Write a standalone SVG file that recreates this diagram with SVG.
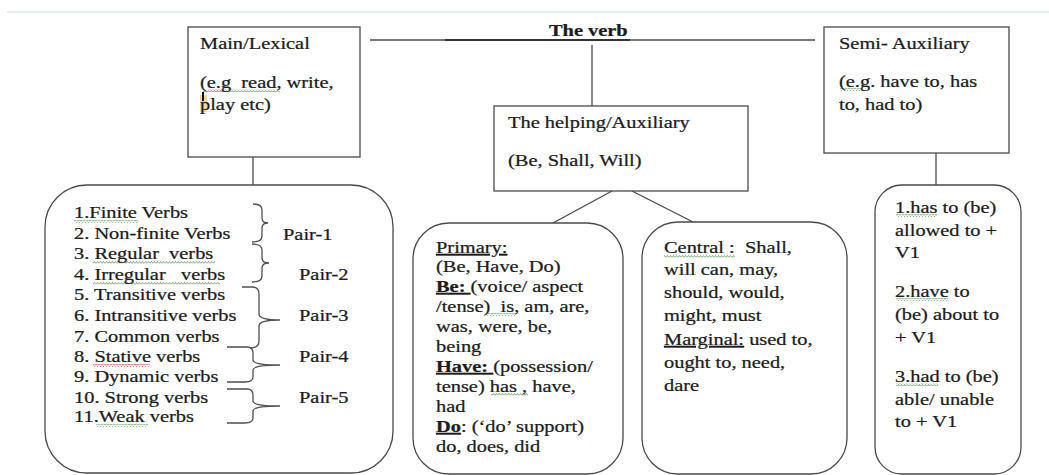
<svg xmlns="http://www.w3.org/2000/svg" width="1049" height="475" viewBox="0 0 1049 475">
<style>
.t{font-family:"Liberation Serif","Times New Roman",serif;font-size:17px;fill:#1c1c1c;stroke:#1c1c1c;stroke-width:0.25;white-space:pre}
.b{font-weight:bold}
.u{text-decoration:underline}
.box{fill:#fff;stroke:#4a4a4a;stroke-width:1.3}
.ln{stroke:#4a4a4a;stroke-width:1.3;fill:none}
.br{stroke:#4f4f4f;stroke-width:1.3;fill:none}
</style>
<defs>
<pattern id="wg" width="3" height="3" patternUnits="userSpaceOnUse"><path d="M0 2.5 L1.5 0.5 L3 2.5" fill="none" stroke="#5aa05a" stroke-width="0.8"/></pattern>
<pattern id="wr" width="3" height="3" patternUnits="userSpaceOnUse"><path d="M0 2.5 L1.5 0.5 L3 2.5" fill="none" stroke="#d04040" stroke-width="0.8"/></pattern>
</defs>
<rect width="1049" height="475" fill="#fff"/>
<line x1="7" y1="12" x2="1049" y2="12" stroke="#dfe4ee" stroke-width="1.5"/>

<g id="connectors">
<line class="ln" x1="370" y1="40" x2="815" y2="40"/>
<line x1="445" y1="40" x2="630" y2="40" stroke="#333" stroke-width="2.2"/>
<line class="ln" x1="592" y1="45" x2="592" y2="106"/>
<line class="ln" x1="253" y1="149" x2="253" y2="185"/>
<line class="ln" x1="936" y1="153" x2="936" y2="185"/>
<line class="ln" x1="612" y1="191" x2="553" y2="223"/>
<line class="ln" x1="632" y1="191" x2="693" y2="222"/>
</g>

<g id="title">
<text class="t b" transform="matrix(1.2 0 0 1 549 36)">The verb</text>
</g>

<g id="main-lexical">
<rect class="box" x="188" y="27" width="172" height="130"/>
<rect x="200" y="95" width="7" height="17" fill="#e8cf7a" opacity="0.8"/>
<rect x="202" y="92" width="2" height="9" fill="#111"/>
<rect x="203" y="89" width="22" height="3" fill="url(#wr)"/>
<rect x="225" y="89" width="55" height="3" fill="url(#wg)"/>
<text class="t" transform="matrix(1.2 0 0 1 200 0)"><tspan x="0" y="49">Main/Lexical</tspan><tspan x="0" y="88">(e.g  read, write,</tspan><tspan x="0" y="110">play etc)</tspan></text>
</g>

<g id="helping">
<rect class="box" x="494" y="106" width="254" height="85"/>
<text class="t" transform="matrix(1.2 0 0 1 508 0)"><tspan x="0" y="128">The helping/Auxiliary</tspan><tspan x="0" y="166">(Be, Shall, Will)</tspan></text>
</g>

<g id="semi-auxiliary">
<rect class="box" x="824" y="27" width="185" height="126"/>
<rect x="840" y="88" width="22" height="3" fill="url(#wg)"/>
<text class="t" transform="matrix(1.2 0 0 1 839 0)"><tspan x="0" y="49">Semi- Auxiliary</tspan><tspan x="0" y="87">(e.g. have to, has</tspan><tspan x="0" y="110">to, had to)</tspan></text>
</g>

<g id="verb-types">
<rect class="box" x="45" y="185" width="348" height="288" rx="42" ry="42"/>
<rect x="74" y="220" width="64" height="3" fill="url(#wg)"/>
<rect x="93" y="261" width="122" height="3" fill="url(#wg)"/>
<rect x="93" y="282" width="127" height="3" fill="url(#wg)"/>
<rect x="93" y="364" width="57" height="3" fill="url(#wr)"/>
<rect x="96" y="424" width="52" height="3" fill="url(#wg)"/>
<text class="t" transform="matrix(1.2 0 0 1 74 0)"><tspan x="0" y="218">1.Finite Verbs</tspan><tspan x="0" y="239">2. Non-finite Verbs</tspan><tspan x="0" y="259">3. Regular  verbs</tspan><tspan x="0" y="280">4. Irregular   verbs</tspan><tspan x="0" y="300">5. Transitive verbs</tspan><tspan x="0" y="321">6. Intransitive verbs</tspan><tspan x="0" y="342">7. Common verbs</tspan><tspan x="0" y="362">8. Stative verbs</tspan><tspan x="0" y="382">9. Dynamic verbs</tspan><tspan x="0" y="403">10. Strong verbs</tspan><tspan x="0" y="422">11.Weak verbs</tspan></text>
<path class="br" d="M253 204 Q262 204 262 210 L262 218 Q262 223 268 223 Q262 223 262 228 L262 236 Q262 242 252 242"/>
<path class="br" d="M252 244 Q262 244 262 250 L262 258 Q262 263 269 263 Q262 263 262 268 L262 276 Q262 282 252 282"/>
<path class="br" d="M242 287 L252 287 Q259 287 259 294 L259 314 Q259 320 280 320 Q259 320 259 326 L259 341 Q259 348 250 348"/>
<path class="br" d="M227 347 L247 347 Q253 347 253 353 L253 360 Q253 365 280 365 Q253 365 253 370 L253 377 Q253 382 245 382 L227 382"/>
<path class="br" d="M227 389 L247 389 Q253 389 253 395 L253 401 Q253 406 280 406 Q253 406 253 411 L253 418 Q253 423 245 423 L227 423"/>
<text class="t" transform="matrix(1.2 0 0 1 283 240)">Pair-1</text>
<text class="t" transform="matrix(1.2 0 0 1 299 280)">Pair-2</text>
<text class="t" transform="matrix(1.2 0 0 1 299 321)">Pair-3</text>
<text class="t" transform="matrix(1.2 0 0 1 299 362)">Pair-4</text>
<text class="t" transform="matrix(1.2 0 0 1 299 403)">Pair-5</text>
</g>

<g id="primary">
<rect class="box" x="413" y="223" width="210" height="251" rx="36" ry="36"/>
<rect x="486" y="313" width="29" height="3" fill="url(#wg)"/>
<rect x="491" y="393" width="37" height="3" fill="url(#wg)"/>
<text class="t" transform="matrix(1.2 0 0 1 436 0)"><tspan x="0" y="253" class="u">Primary:</tspan><tspan x="0" y="272">(Be, Have, Do)</tspan><tspan x="0" y="292" class="b u">Be: </tspan><tspan>(voice/ aspect</tspan><tspan x="0" y="312">/tense)  is, am, are,</tspan><tspan x="0" y="332">was, were, be,</tspan><tspan x="0" y="352">being</tspan><tspan x="0" y="372" class="b u">Have: </tspan><tspan>(possession/</tspan><tspan x="0" y="392">tense) has , have,</tspan><tspan x="0" y="412">had</tspan><tspan x="0" y="432" class="b u">Do</tspan><tspan>: (‘do’ support)</tspan><tspan x="0" y="452">do, does, did</tspan></text>
</g>

<g id="central">
<rect class="box" x="642" y="222" width="205" height="252" rx="36" ry="36"/>
<rect x="664" y="255" width="71" height="3" fill="url(#wg)"/>
<text class="t" transform="matrix(1.2 0 0 1 664 0)"><tspan x="0" y="253">Central :  Shall,</tspan><tspan x="0" y="275">will can, may,</tspan><tspan x="0" y="298">should, would,</tspan><tspan x="0" y="321">might, must</tspan><tspan x="0" y="345" class="u">Marginal:</tspan><tspan> used to,</tspan><tspan x="0" y="368">ought to, need,</tspan><tspan x="0" y="391">dare</tspan></text>
</g>

<g id="semi-examples">
<rect class="box" x="875" y="185" width="146" height="289" rx="27" ry="27"/>
<rect x="896" y="214" width="41" height="3" fill="url(#wg)"/>
<rect x="896" y="298" width="52" height="3" fill="url(#wg)"/>
<rect x="896" y="383" width="42" height="3" fill="url(#wg)"/>
<text class="t" transform="matrix(1.2 0 0 1 895 0)"><tspan x="0" y="213">1.has to (be)</tspan><tspan x="0" y="236">allowed to +</tspan><tspan x="0" y="258">V1</tspan><tspan x="0" y="297">2.have to</tspan><tspan x="0" y="320">(be) about to</tspan><tspan x="0" y="343">+ V1</tspan><tspan x="0" y="382">3.had to (be)</tspan><tspan x="0" y="405">able/ unable</tspan><tspan x="0" y="427">to + V1</tspan></text>
</g>
</svg>
